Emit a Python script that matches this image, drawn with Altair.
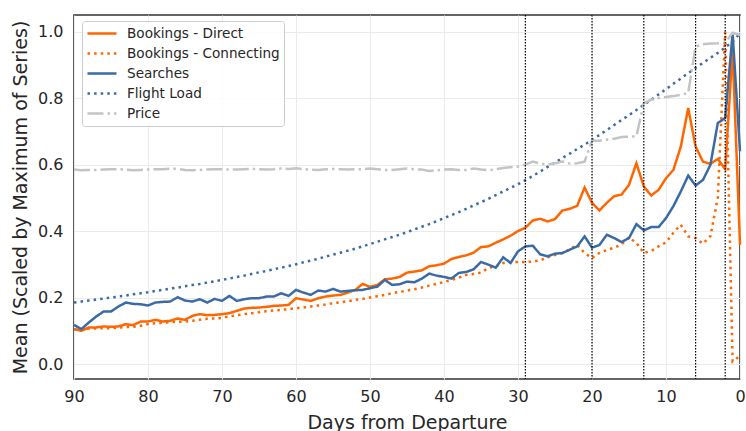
import altair as alt
import pandas as pd

days = list(range(90, -1, -1))

series_names = ["Bookings - Direct", "Bookings - Connecting", "Searches", "Flight Load", "Price"]
series_colors = ["#ff6600", "#ff6600", "#3b6ba5", "#3b6ba5", "#c4c4c4"]

direct = [
    0.105, 0.100, 0.110, 0.110, 0.113, 0.112, 0.113, 0.120, 0.117, 0.128,
    0.128, 0.133, 0.128, 0.130, 0.137, 0.133, 0.145, 0.150, 0.147, 0.148,
    0.150, 0.153, 0.160, 0.167, 0.169, 0.170, 0.172, 0.175, 0.176, 0.178,
    0.198, 0.194, 0.190, 0.198, 0.203, 0.206, 0.208, 0.215, 0.223, 0.241,
    0.232, 0.238, 0.255, 0.257, 0.262, 0.275, 0.278, 0.282, 0.294, 0.297,
    0.302, 0.316, 0.322, 0.327, 0.335, 0.352, 0.354, 0.365, 0.375, 0.386,
    0.400, 0.410, 0.432, 0.437, 0.429, 0.436, 0.462, 0.467, 0.476, 0.531,
    0.485, 0.462, 0.485, 0.505, 0.510, 0.539, 0.604, 0.534, 0.507, 0.524,
    0.559, 0.584, 0.654, 0.770, 0.654, 0.609, 0.602, 0.617, 0.586, 0.945,
    0.359]

connecting = [
    0.105, 0.103, 0.106, 0.107, 0.108, 0.108, 0.110, 0.111, 0.112, 0.115,
    0.120, 0.123, 0.124, 0.126, 0.127, 0.128, 0.130, 0.133, 0.136, 0.137,
    0.139, 0.143, 0.147, 0.150, 0.153, 0.156, 0.159, 0.161, 0.163, 0.165,
    0.168, 0.170, 0.173, 0.176, 0.179, 0.183, 0.186, 0.189, 0.193, 0.196,
    0.200, 0.204, 0.208, 0.213, 0.217, 0.221, 0.225, 0.230, 0.236, 0.241,
    0.247, 0.253, 0.260, 0.268, 0.271, 0.275, 0.289, 0.294, 0.304, 0.306,
    0.307, 0.307, 0.308, 0.312, 0.321, 0.328, 0.334, 0.345, 0.359, 0.334,
    0.319, 0.334, 0.343, 0.350, 0.360, 0.381, 0.364, 0.334, 0.340, 0.354,
    0.366, 0.395, 0.419, 0.384, 0.379, 0.362, 0.385, 0.500, 1.000, 0.008,
    0.025]

searches = [
    0.118, 0.105, 0.125, 0.143, 0.158, 0.158, 0.173, 0.185, 0.181, 0.180,
    0.176, 0.185, 0.187, 0.188, 0.201, 0.191, 0.188, 0.195, 0.185, 0.196,
    0.190, 0.205, 0.190, 0.195, 0.198, 0.198, 0.203, 0.203, 0.213, 0.205,
    0.223, 0.215, 0.208, 0.221, 0.218, 0.226, 0.218, 0.220, 0.222, 0.223,
    0.228, 0.233, 0.253, 0.238, 0.240, 0.248, 0.246, 0.257, 0.272, 0.266,
    0.262, 0.257, 0.274, 0.277, 0.285, 0.307, 0.299, 0.290, 0.321, 0.304,
    0.339, 0.354, 0.356, 0.330, 0.324, 0.332, 0.334, 0.344, 0.354, 0.384,
    0.350, 0.358, 0.389, 0.379, 0.367, 0.379, 0.421, 0.402, 0.412, 0.412,
    0.439, 0.475, 0.519, 0.567, 0.537, 0.554, 0.599, 0.725, 0.740, 0.995,
    0.640]

flight_load = [
    0.185, 0.188, 0.191, 0.194, 0.197, 0.200, 0.203, 0.206, 0.210, 0.213,
    0.216, 0.220, 0.223, 0.227, 0.230, 0.234, 0.238, 0.241, 0.245, 0.249,
    0.253, 0.257, 0.262, 0.266, 0.271, 0.276, 0.280, 0.285, 0.290, 0.295,
    0.300, 0.306, 0.311, 0.317, 0.323, 0.329, 0.335, 0.341, 0.347, 0.354,
    0.361, 0.368, 0.375, 0.382, 0.389, 0.397, 0.405, 0.413, 0.421, 0.430,
    0.439, 0.448, 0.457, 0.467, 0.477, 0.487, 0.497, 0.508, 0.519, 0.530,
    0.541, 0.553, 0.566, 0.579, 0.593, 0.606, 0.620, 0.633, 0.647, 0.660,
    0.674, 0.689, 0.704, 0.719, 0.734, 0.749, 0.764, 0.780, 0.795, 0.811,
    0.827, 0.843, 0.859, 0.875, 0.891, 0.906, 0.921, 0.936, 0.952, 0.970,
    0.995]

price = [
    0.585, 0.583, 0.584, 0.584, 0.585, 0.586, 0.586, 0.585, 0.583, 0.584,
    0.585, 0.586, 0.586, 0.588, 0.587, 0.584, 0.583, 0.584, 0.585, 0.586,
    0.586, 0.585, 0.585, 0.586, 0.587, 0.586, 0.585, 0.586, 0.588, 0.587,
    0.589, 0.586, 0.585, 0.584, 0.586, 0.587, 0.586, 0.585, 0.586, 0.586,
    0.588, 0.586, 0.584, 0.584, 0.586, 0.588, 0.586, 0.585, 0.581, 0.583,
    0.585, 0.586, 0.584, 0.584, 0.588, 0.585, 0.583, 0.586, 0.590, 0.592,
    0.594, 0.600, 0.609, 0.603, 0.600, 0.604, 0.609, 0.603, 0.604, 0.609,
    0.672, 0.672, 0.675, 0.678, 0.683, 0.684, 0.685, 0.785, 0.795, 0.800,
    0.803, 0.806, 0.810, 0.815, 0.955, 0.962, 0.964, 0.965, 0.967, 0.997,
    0.990]

event_days = [29, 20, 13, 6, 2]

x_ticks = [90, 80, 70, 60, 50, 40, 30, 20, 10, 0]
y_ticks = [0.0, 0.2, 0.4, 0.6, 0.8, 1.0]

series_values = [direct, connecting, searches, flight_load, price]
rows = []
for name, vals in zip(series_names, series_values):
    for d, v in zip(days, vals):
        rows.append({"day": d, "value": v, "series": name})
df = pd.DataFrame(rows)
vdf = pd.DataFrame({"day": event_days})

dashes = [[1, 0], [2.5, 4.1], [1, 0], [2.5, 4.1], [16, 4, 2.5, 4]]

x_enc = alt.X(
    "day:Q",
    scale=alt.Scale(domain=[0, 90], reverse=True, nice=False, zero=False),
    axis=alt.Axis(values=x_ticks, title="Days from Departure", format="d",
                  labelPadding=22, labelBaseline="alphabetic", labelFlush=False,
                  titleY=49, titleBaseline="alphabetic"),
)

lines = alt.Chart(df).mark_line(strokeWidth=2.5, strokeCap="butt").encode(
    x=x_enc,
    y=alt.Y(
        "value:Q",
        scale=alt.Scale(domain=[-0.045, 1.05], nice=False, zero=False),
        axis=alt.Axis(values=y_ticks, format=".1f", labelFlush=False,
                      title="Mean (Scaled by Maximum of Series)",
                      labelPadding=11, titleX=-54, titleY=182,
                      titleBaseline="middle", titleAlign="center"),
    ),
    color=alt.Color("series:N", scale=alt.Scale(domain=series_names, range=series_colors),
                    legend=alt.Legend(title=None)),
    strokeDash=alt.StrokeDash("series:N", scale=alt.Scale(domain=series_names, range=dashes),
                              legend=alt.Legend(title=None)),
)

rules = alt.Chart(vdf).mark_rule(color="black", strokeWidth=1.2, strokeDash=[1.5, 1.5]).encode(
    x="day:Q"
)

chart = alt.layer(lines, rules).properties(
    width=666, height=364,
    autosize=alt.AutoSizeParams(type="none"),
    padding={"left": 74, "top": 15, "right": 6, "bottom": 52},
).configure(
    font="DejaVu Sans",
).configure_view(
    stroke="#333333", strokeWidth=1.6,
).configure_axis(
    grid=True, gridColor="#ebebeb", gridWidth=1, domain=False, ticks=False,
    labelFont="DejaVu Sans", labelFontSize=16, labelColor="#262626",
    titleFont="DejaVu Sans", titleFontSize=19, titleColor="#262626", titleFontWeight="normal",
).configure_legend(
    orient="none", legendX=8, legendY=6,
    fillColor="rgba(255,255,255,0.85)", strokeColor="#cccccc", cornerRadius=3,
    padding=4, symbolType="stroke", symbolSize=841, symbolStrokeWidth=2.5,
    labelFont="DejaVu Sans", labelFontSize=13.6, labelColor="#262626",
    labelOffset=9, clipHeight=17, rowPadding=3,
)

chart.save("out.html", embed_options={"renderer": "svg", "actions": False})
